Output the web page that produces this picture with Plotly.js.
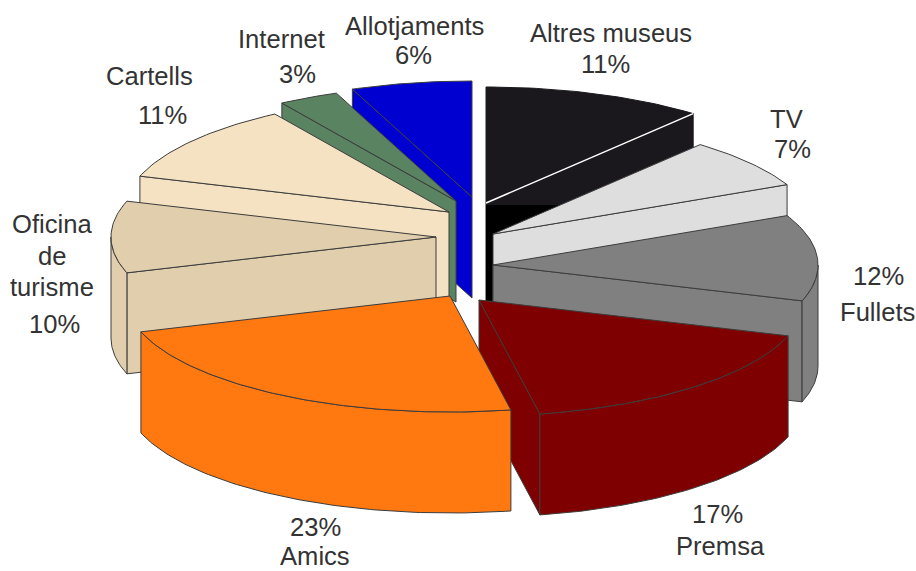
<!DOCTYPE html>
<html>
<head>
<meta charset="utf-8">
<script src="https://cdn.plot.ly/plotly-3.0.1.min.js"></script>
<style>html,body{margin:0;padding:0;background:#fff}#chart{width:916px;height:571px}</style>
</head>
<body>
<div id="chart"></div>
<script>
// Shares of each information channel, clockwise from twelve o'clock
const categories = ['Altres museus', 'TV', 'Fullets', 'Premsa', 'Amics', 'Oficina de turisme', 'Cartells', 'Internet', 'Allotjaments'];
const shares = [11, 7, 12, 17, 23, 10, 11, 3, 6];
const colors = ['#1a181c', '#dedede', '#808080', '#7f0000', '#ff7810', '#e0cead', '#f4e2c2', '#5a8361', '#0000d0'];

// Projected disc: centre, radii and thickness in pixels
const pie = {cx: 468, cy: 250, rx: 325, ry: 116, depth: 101};
// How far each wedge is pulled out of the disc
const pullX = [18, 25, 25, 11, -18, -32, -19, -12, 4];
const pullY = [-47, -16, 15, 50, 46, -13, -38, -49, -53];

const outline = '#3c3c3c';
const total = shares.reduce((a, b) => a + b, 0);
const traces = [];

function polygon(points, fill, line, width) {
  traces.push({
    type: 'scatter', mode: 'lines', fill: 'toself', fillcolor: fill,
    x: points.map(p => p[0]), y: points.map(p => p[1]),
    line: {color: line, width: width === undefined ? 1 : width},
    hoverinfo: 'skip', showlegend: false
  });
}

function rimPoint(apex, deg) {
  const a = deg * Math.PI / 180;
  return [apex[0] + pie.rx * Math.sin(a), apex[1] - pie.ry * Math.cos(a)];
}

function arc(apex, from, to) {
  const pts = [];
  const n = Math.max(2, Math.ceil(Math.abs(to - from)));
  for (let i = 0; i <= n; i++) pts.push(rimPoint(apex, from + (to - from) * i / n));
  return pts;
}

const dropped = pts => pts.map(p => [p[0], p[1] + pie.depth]);

// Build the wedges with their angular ranges
let running = 0;
const wedges = shares.map((v, i) => {
  const from = running / total * 360;
  running += v;
  const to = running / total * 360;
  return {i, from, to, mid: (from + to) / 2,
          apex: [pie.cx + pullX[i], pie.cy + pullY[i]]};
});

// A cut face is visible only when the wedge's surface lies above its edge on screen
function cutFaceVisible(w, deg) {
  const rim = rimPoint(w.apex, deg);
  const dx = rim[0] - w.apex[0];
  if (Math.abs(dx) < 1) return false;
  const probe = rimPoint(w.apex, w.mid);
  const px = w.apex[0] + (probe[0] - w.apex[0]) * 0.5;
  const py = w.apex[1] + (probe[1] - w.apex[1]) * 0.5;
  const edgeY = w.apex[1] + (rim[1] - w.apex[1]) * (px - w.apex[0]) / dx;
  return py < edgeY;
}

function drawWedge(w) {
  const fill = colors[w.i];
  const dark = w.i === 0;
  const line = dark ? fill : outline;

  [w.from, w.to].forEach(deg => {
    if (!cutFaceVisible(w, deg)) return;
    const top = [w.apex, rimPoint(w.apex, deg)];
    polygon(top.concat(dropped(top).reverse()).concat([w.apex]), fill, line);
  });

  // Outer wall, only along the part of the rim that faces the viewer
  const a = Math.max(w.from, 90), b = Math.min(w.to, 270);
  if (b > a) {
    const rim = arc(w.apex, a, b);
    polygon(rim.concat(dropped(rim).reverse()).concat([rim[0]]), fill, line);
  }

  // Deep shadow inside the dark wedge, below its cut edge
  if (dark) {
    const [x, y] = w.apex;
    polygon([[x, y + 2], [x + 74, y + 2], [x + 74, y + pie.depth], [x, y + pie.depth], [x, y + 2]], '#000000', '#000000', 0);
  }

  polygon([w.apex].concat(arc(w.apex, w.from, w.to)).concat([w.apex]), fill, line);

  if (dark) {
    const edge = [w.apex, rimPoint(w.apex, w.to)];
    traces.push({
      type: 'scatter', mode: 'lines',
      x: edge.map(p => p[0]), y: edge.map(p => p[1]),
      line: {color: '#ffffff', width: 1.5}, hoverinfo: 'skip', showlegend: false
    });
  }
}

// Paint from the back of the disc to the front
wedges.slice()
  .sort((p, q) => Math.cos(q.mid * Math.PI / 180) - Math.cos(p.mid * Math.PI / 180))
  .forEach(drawWedge);

// Labels, each line placed on its own
const pct = i => shares[i] + '%';
const labelLines = [
  ['Altres museus', 611, 33], [pct(0), 605, 64],
  ['TV', 786, 119], [pct(1), 792, 149],
  [pct(2), 878, 276], ['Fullets', 877, 312],
  [pct(3), 717, 514], ['Premsa', 720, 546],
  [pct(4), 315, 527], ['Amics', 315, 556],
  ['Oficina', 52, 224], ['de', 52, 256], ['turisme', 52, 287], [pct(5), 54, 324],
  ['Cartells', 149, 76], [pct(6), 162, 115],
  ['Internet', 281, 39], [pct(7), 297, 74],
  ['Allotjaments', 414, 26], [pct(8), 413, 55]
];

const annotations = labelLines.map(([text, x, y]) => ({
  text, x, y, xref: 'x', yref: 'y', showarrow: false,
  xanchor: 'center', yanchor: 'middle',
  font: {family: '"Liberation Sans", Arial, sans-serif', size: 25.6, color: '#333333'}
}));

const layout = {
  width: 916, height: 571,
  margin: {l: 0, r: 0, t: 0, b: 0},
  paper_bgcolor: '#ffffff', plot_bgcolor: '#ffffff',
  showlegend: false,
  xaxis: {range: [0, 916], visible: false, fixedrange: true},
  yaxis: {range: [571, 0], visible: false, fixedrange: true},
  annotations
};

Plotly.newPlot('chart', traces, layout, {displayModeBar: false, staticPlot: true});
</script>
</body>
</html>
